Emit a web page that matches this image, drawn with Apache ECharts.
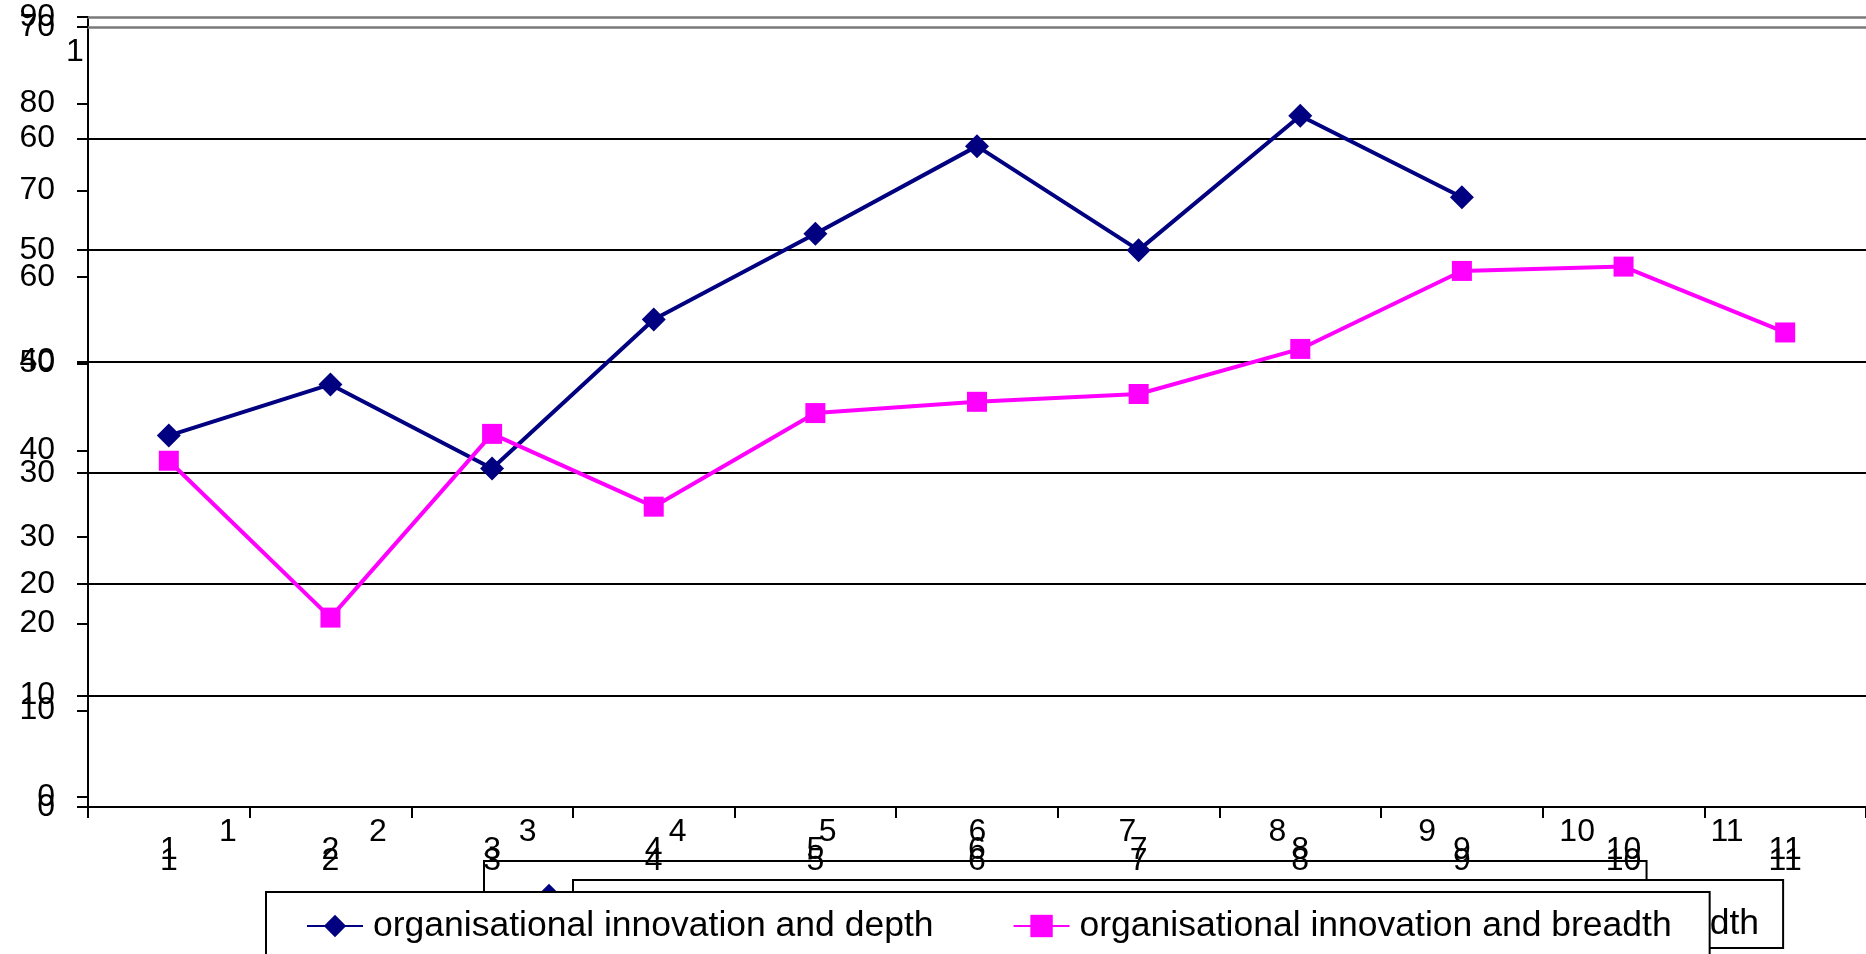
<!DOCTYPE html>
<html>
<head>
<meta charset="utf-8">
<title>organisational innovation</title>
<script src="https://cdn.jsdelivr.net/npm/echarts@6/dist/echarts.min.js"></script>
<style>
  html, body { margin: 0; padding: 0; background: #fff; }
  #chart { width: 1866px; height: 954px; }
</style>
</head>
<body>
<div id="chart"></div>
<script>
// Categories along the horizontal axis
const categories = ['1', '2', '3', '4', '5', '6', '7', '8', '9', '10', '11'];

// Series values
const depthValues = [41.7, 47.6, 37.9, 55.1, 65.0, 75.1, 63.1, 78.6, 69.2];
const breadthValues = [38.8, 20.7, 41.9, 33.5, 44.3, 45.6, 46.5, 51.7, 60.7, 61.2, 53.6];

// Series names
const depthName = 'organisational innovation and depth';
const breadthName = 'organisational innovation and breadth';

// Value-axis scales of the two overlaid plot layers
const scaleA = { min: 0, max: 70, interval: 10 };
const scaleB = { min: 0, max: 90, interval: 10 };

const FONT = "'Liberation Sans', Arial, sans-serif";
const AXIS_FONT = 32;
const LEGEND_FONT = 35.5;

const chart = echarts.init(document.getElementById('chart'), null, { renderer: 'canvas' });

const labelStyle = { color: '#000', fontFamily: FONT, fontSize: AXIS_FONT };

function greyTopAxis(gridIndex) {
  return {
    type: 'category', gridIndex: gridIndex, position: 'top', data: categories,
    axisLine: { show: true, lineStyle: { color: '#7a7a7a', width: 2.5 } },
    axisTick: { show: false }, axisLabel: { show: false }, splitLine: { show: false }
  };
}

const legendText = {
  color: '#000', fontFamily: FONT, fontSize: LEGEND_FONT,
  lineHeight: 36, padding: [0, 0, 12, 5]
};

const option = {
  backgroundColor: '#fff',
  animation: false,
  grid: [
    { left: 88, right: 0, top: 27, bottom: 147, outerBoundsMode: 'none', containLabel: false },
    { left: 88, right: 0, top: 17, bottom: 157, outerBoundsMode: 'none', containLabel: false },
    { left: 153, right: 64, top: 27, bottom: 147, outerBoundsMode: 'none', containLabel: false }
  ],
  xAxis: [
    {
      type: 'category', gridIndex: 0, position: 'bottom', data: categories, boundaryGap: true, z: 3,
      axisLine: { show: true, lineStyle: { color: '#000', width: 2 } },
      axisTick: { show: true, length: 11, alignWithLabel: false, lineStyle: { color: '#000', width: 2 } },
      axisLabel: Object.assign({ margin: 38, interval: 0 }, labelStyle),
      splitLine: { show: false }
    },
    greyTopAxis(0),
    {
      type: 'category', gridIndex: 1, position: 'bottom', data: categories, boundaryGap: true, z: 3,
      axisLine: { show: false }, axisTick: { show: false },
      axisLabel: Object.assign({ margin: 37, interval: 0 }, labelStyle),
      splitLine: { show: false }
    },
    greyTopAxis(1),
    {
      type: 'category', gridIndex: 2, position: 'bottom', data: categories, boundaryGap: true, z: 3,
      axisLine: { show: false }, axisTick: { show: false },
      axisLabel: Object.assign({ margin: 9, interval: 0 }, labelStyle),
      splitLine: { show: false }
    }
  ],
  yAxis: [
    {
      type: 'value', gridIndex: 0, min: scaleA.min, max: scaleA.max, interval: scaleA.interval,
      axisLine: { show: true, lineStyle: { color: '#000', width: 2 } },
      axisTick: { show: true, length: 11, lineStyle: { color: '#000', width: 2 } },
      axisLabel: Object.assign({ margin: 33 }, labelStyle),
      splitLine: { show: true, showMinLine: false, showMaxLine: false, lineStyle: { color: '#000', width: 2 } }
    },
    {
      type: 'value', gridIndex: 1, min: scaleB.min, max: scaleB.max, interval: scaleB.interval,
      axisLine: { show: true, lineStyle: { color: '#000', width: 2 } },
      axisTick: { show: true, length: 11, lineStyle: { color: '#000', width: 2 } },
      axisLabel: Object.assign({ margin: 33 }, labelStyle),
      splitLine: { show: false }
    },
    {
      type: 'value', gridIndex: 2, min: 0, max: 1, show: false
    }
  ],
  legend: [
    {
      // back legend, mostly covered
      z: 1, left: 484, top: 861, orient: 'horizontal', selectedMode: false,
      data: [depthName],
      padding: [10, 499, 10, 36], itemWidth: 56, itemHeight: 28, itemGap: 79,
      backgroundColor: '#fff', borderColor: '#000', borderWidth: 2,
      textStyle: legendText
    },
    {
      z: 5, left: 573, top: 880, orient: 'horizontal', selectedMode: false,
      data: [breadthName],
      padding: [20, 24, 0, 527], itemWidth: 56, itemHeight: 28, itemGap: 79,
      backgroundColor: '#fff', borderColor: '#000', borderWidth: 2,
      textStyle: legendText
    },
    {
      z: 6, left: 266, top: 892, orient: 'horizontal', selectedMode: false,
      data: [depthName, breadthName],
      padding: [10, 38, 20, 40], itemWidth: 56, itemHeight: 28, itemGap: 79,
      backgroundColor: '#fff', borderColor: '#000', borderWidth: 2,
      textStyle: legendText
    }
  ],
  graphic: [
    {
      type: 'text', left: 66, top: 36, z: 3,
      style: { text: '1', fill: '#000', font: AXIS_FONT + 'px ' + FONT }
    }
  ],
  series: [
    {
      name: depthName, type: 'line', xAxisIndex: 2, yAxisIndex: 1,
      data: depthValues,
      symbol: 'diamond', symbolSize: 24, showAllSymbol: true,
      lineStyle: { color: '#000080', width: 4 },
      itemStyle: { color: '#000080' },
      z: 4
    },
    {
      name: breadthName, type: 'line', xAxisIndex: 2, yAxisIndex: 1,
      data: breadthValues,
      symbol: 'rect', symbolSize: 20, showAllSymbol: true,
      lineStyle: { color: '#FF00FF', width: 4 },
      itemStyle: { color: '#FF00FF' },
      z: 4
    }
  ]
};

chart.setOption(option);
</script>
</body>
</html>
